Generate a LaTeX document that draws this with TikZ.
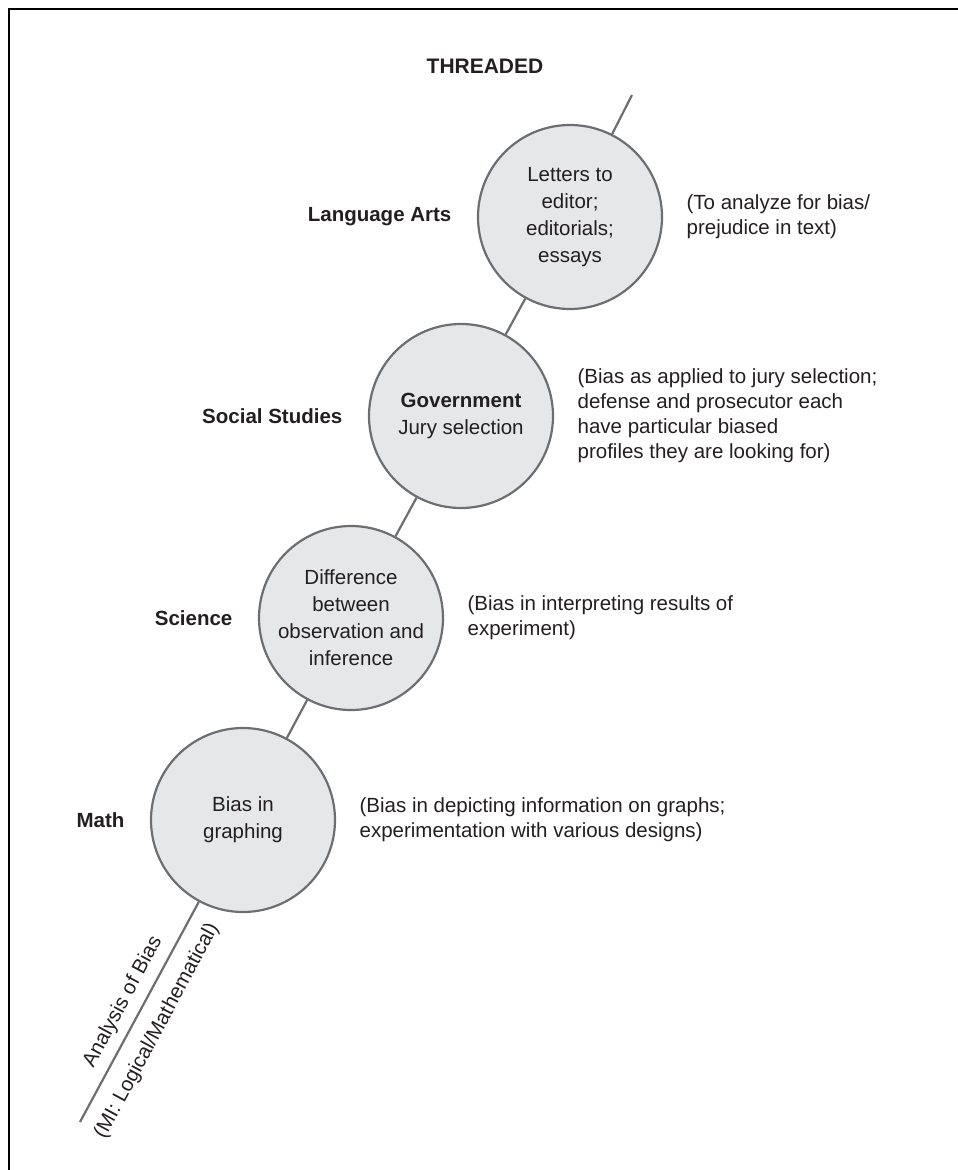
\documentclass[tikz,border=0pt]{standalone}
\usepackage{fontspec}
\setmainfont{Liberation Sans}
\definecolor{ink}{HTML}{231F20}
\definecolor{discfill}{HTML}{E6E7E8}
\definecolor{discline}{HTML}{6D6E71}
\definecolor{threadline}{HTML}{6D6E71}
\begin{document}
\begin{tikzpicture}[x=1pt,y=-1pt,
  topic/.style={circle, draw=discline, line width=2.2pt, fill=discfill,
    minimum size=184pt, inner sep=0pt, align=center, text=ink,
    font=\fontsize{20.5}{27}\selectfont},
  subject/.style={anchor=east, text=ink, font=\fontsize{20.5}{24}\selectfont\bfseries},
  note/.style={anchor=west, align=left, text=ink, font=\fontsize{20.5}{25}\selectfont},
  thread/.style={draw=threadline, line width=2.2pt},
  slanted/.style={rotate=61.7, text=ink, font=\fontsize{20.5}{24}\selectfont}]
\useasboundingbox (0,0) rectangle (958,1170);

% frame
\draw[line width=2pt] (9,1170) -- (9,9) -- (958,9);

% title
\node[text=ink, font=\fontsize{21}{25}\selectfont\bfseries] (title) at (485,66) {THREADED};

% thread ends
\coordinate (top) at (632,95);
\coordinate (tail) at (80,1122);

% disciplines along the thread
\node[topic] (c1) at (570,217) {Letters to\\editor;\\editorials;\\essays};
\node[topic] (c2) at (461,416) {\textbf{Government}\\Jury selection};
\node[topic] (c3) at (351,618) {Difference\\between\\observation and\\inference};
\node[topic] (c4) at (243,820) {Bias in\\graphing};

\draw[thread] (top) -- (c1);
\draw[thread] (c1) -- (c2);
\draw[thread] (c2) -- (c3);
\draw[thread] (c3) -- (c4);
\draw[thread] (c4) -- (tail);

% subject labels
\node[subject] (s1) at ([xshift=-22pt]c1.west) {Language Arts};
\node[subject] (s2) at ([xshift=-22pt]c2.west) {Social Studies};
\node[subject] (s3) at ([xshift=-22pt]c3.west) {Science};
\node[subject] (s4) at ([xshift=-22pt]c4.west) {Math};

% notes
\node[note] (n1) at ([xshift=20pt]c1.east) {(To analyze for bias/\\prejudice in text)};
\node[note] (n2) at ([xshift=20pt]c2.east) {(Bias as applied to jury selection;\\defense and prosecutor each\\have particular biased\\profiles they are looking for)};
\node[note] (n3) at ([xshift=20pt]c3.east) {(Bias in interpreting results of\\experiment)};
\node[note] (n4) at ([xshift=20pt]c4.east) {(Bias in depicting information on graphs;\\experimentation with various designs)};

% thread caption
\node[slanted] (theme) at (123,1002) {Analysis of Bias};
\node[slanted] (mi) at (157,1031) {(MI: Logical/Mathematical)};
\end{tikzpicture}
\end{document}
